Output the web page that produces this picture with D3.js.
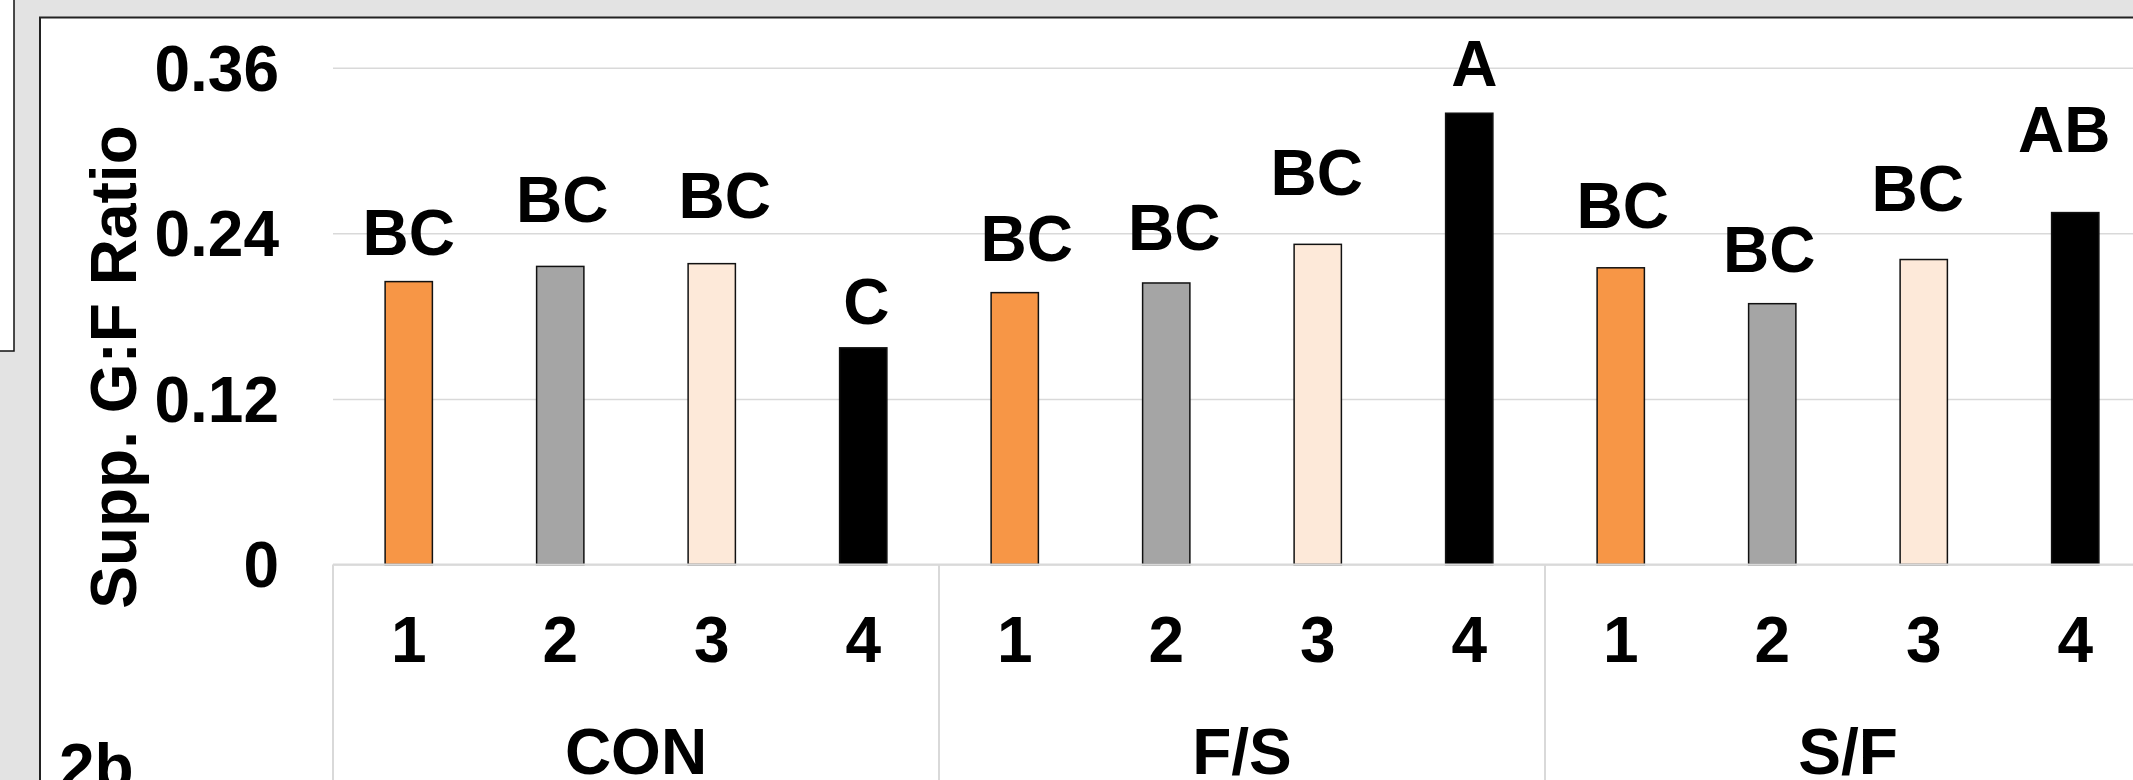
<!DOCTYPE html>
<html>
<head>
<meta charset="utf-8">
<script src="https://cdn.jsdelivr.net/npm/d3@7"></script>
<style>
  html, body { margin: 0; padding: 0; background: #e3e3e3; overflow: hidden; }
  svg { display: block; }
  text { font-family: "Liberation Sans", Arial, sans-serif; font-weight: bold; fill: #000; }
</style>
</head>
<body>
<svg id="chart" width="2133" height="780"></svg>
<script>
// ---- data ----
const groups = ["CON", "F/S", "S/F"];
const treatments = ["1", "2", "3", "4"];
const conValues = [0.205, 0.216, 0.218, 0.157];
const fsValues  = [0.197, 0.204, 0.232, 0.327];
const sfValues  = [0.215, 0.189, 0.221, 0.255];
const conLetters = ["BC", "BC", "BC", "C"];
const fsLetters  = ["BC", "BC", "BC", "A"];
const sfLetters  = ["BC", "BC", "BC", "AB"];
// letter label heights (top of error bars, in data units)
const conLetterPos = [0.224, 0.248, 0.251, 0.174];
const fsLetterPos  = [0.220, 0.228, 0.268, 0.347];
const sfLetterPos  = [0.244, 0.212, 0.256, 0.299];
const yTicks = [0, 0.12, 0.24, 0.36];
const yTickLabels = ["0", "0.12", "0.24", "0.36"];
const yTitle = "Supp. G:F Ratio";
const panelLabel = "2b";

// ---- styles / layout ----
const colors = ["#F79646", "#A5A5A5", "#FDE9D9", "#000000"];
// hand-placed label horizontal nudges (px) as in the original figure
const labelNudge = [[0, 2, 13, 3], [12, 8, -1, 5], [2, -3, -6, -11]];

const values = [conValues, fsValues, sfValues];
const letters = [conLetters, fsLetters, sfLetters];
const letterPos = [conLetterPos, fsLetterPos, sfLetterPos];

const rows = [];
groups.forEach((g, gi) => treatments.forEach((t, ti) => rows.push({
  group: g, gi, t, ti, value: values[gi][ti], letter: letters[gi][ti], lpos: letterPos[gi][ti]
})));

const svg = d3.select("#chart");
const W = 2133, H = 780;
const plotLeft = 333, groupW = 606;

// background panels
svg.append("rect").attr("x", 0).attr("y", 0).attr("width", W).attr("height", H).attr("fill", "#e3e3e3");
// previous panel fragment (top-left)
svg.append("rect").attr("x", -5).attr("y", -5).attr("width", 19).attr("height", 356)
  .attr("fill", "#fff").attr("stroke", "#111").attr("stroke-width", 1.5);
// main panel
svg.append("rect").attr("x", 40).attr("y", 17.5).attr("width", W + 10).attr("height", H + 10)
  .attr("fill", "#fff").attr("stroke", "#222").attr("stroke-width", 2);

const y = d3.scaleLinear().domain([0, 0.36]).range([564.5, 67.7]);
const x0 = d3.scaleBand().domain(groups).range([plotLeft, plotLeft + groupW * groups.length]);
const x1 = d3.scaleBand().domain(treatments).range([0, x0.bandwidth()]);
const barW = x1.bandwidth() * 0.312;

// gridlines
const grid = d3.axisLeft(y).tickValues(yTicks).tickSize(-(W - plotLeft + 10)).tickFormat("");
const gG = svg.append("g").attr("transform", `translate(${plotLeft},0)`).call(grid);
gG.select(".domain").remove();
gG.selectAll(".tick line").attr("stroke", "#d9d9d9").attr("stroke-width", 1.5);

// y tick labels
const yAx = d3.axisLeft(y).tickValues(yTicks).tickSize(0).tickPadding(0)
  .tickFormat((d, i) => yTickLabels[i]);
const yG = svg.append("g").attr("transform", `translate(279,0)`).call(yAx);
yG.select(".domain").remove();
yG.selectAll("text").attr("font-size", 64).attr("font-family", "Liberation Sans, Arial, sans-serif")
  .attr("font-weight", "bold").attr("fill", "#000").attr("dy", "0.35em");

// y title
svg.append("text").attr("transform", `translate(136,367) rotate(-90)`)
  .attr("text-anchor", "middle").attr("font-size", 64).text(yTitle);

// bars
svg.append("g").selectAll("rect").data(rows).join("rect")
  .attr("x", d => x0(d.group) + x1(d.t) + (x1.bandwidth() - barW) / 2)
  .attr("y", d => y(d.value))
  .attr("width", barW)
  .attr("height", d => y(0) - y(d.value))
  .attr("fill", d => colors[d.ti])
  .attr("stroke", "#111").attr("stroke-width", 1.5);

// letters
svg.append("g").selectAll("text").data(rows).join("text")
  .attr("x", d => x0(d.group) + x1(d.t) + x1.bandwidth() / 2 + labelNudge[d.gi][d.ti])
  .attr("y", d => y(d.lpos))
  .attr("text-anchor", "middle").attr("font-size", 64)
  .text(d => d.letter);

// category axis: baseline and separators
svg.append("line").attr("x1", plotLeft).attr("x2", W + 10).attr("y1", y(0)).attr("y2", y(0))
  .attr("stroke", "#d9d9d9").attr("stroke-width", 2);
const seps = groups.map(g => x0(g));
svg.append("g").selectAll("line").data(seps).join("line")
  .attr("x1", d => d).attr("x2", d => d).attr("y1", y(0)).attr("y2", H + 10)
  .attr("stroke", "#d9d9d9").attr("stroke-width", 2);

// treatment labels
svg.append("g").selectAll("text").data(rows).join("text")
  .attr("x", d => x0(d.group) + x1(d.t) + x1.bandwidth() / 2)
  .attr("y", 662).attr("text-anchor", "middle").attr("font-size", 64)
  .text(d => d.t);

// group labels (cut by the lower edge, as in the original)
svg.append("g").selectAll("text").data(groups).join("text")
  .attr("x", d => x0(d) + x0.bandwidth() / 2)
  .attr("y", 774).attr("text-anchor", "middle").attr("font-size", 64)
  .text(d => d);

// panel label
svg.append("text").attr("x", 59).attr("y", 789).attr("font-size", 64).text(panelLabel);
</script>
</body>
</html>
